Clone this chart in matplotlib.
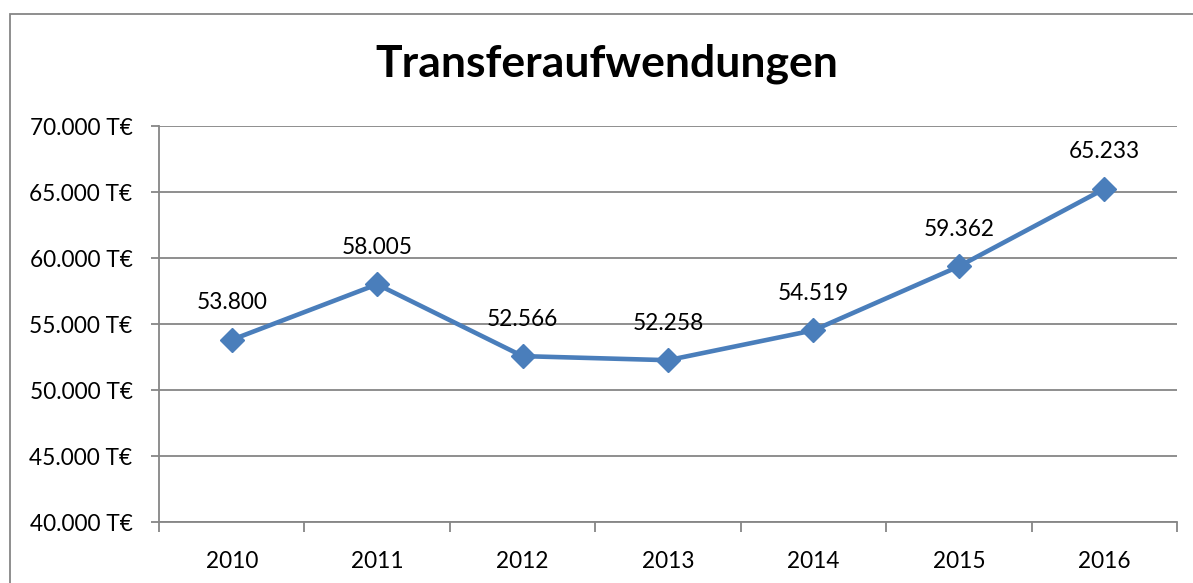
import matplotlib
matplotlib.use("Agg")
import matplotlib.pyplot as plt
from matplotlib.patches import Rectangle
from matplotlib.ticker import FuncFormatter, MultipleLocator

years = ["2010", "2011", "2012", "2013", "2014", "2015", "2016"]
values = [53800, 58005, 52566, 52258, 54519, 59362, 65233]
title = "Transferaufwendungen"

plt.rcParams['font.family'] = ['Lato', 'DejaVu Sans']

W, H = 1193, 583
fig = plt.figure(figsize=(W / 100, H / 100), dpi=100)
ax = fig.add_axes([159 / W, 1 - 522 / H, (1177 - 159) / W, (522 - 126) / H])

grey = "#868686"
blue = "#4A7EBB"
fs = 16.3

# outer chart border (runs off the right and bottom edge)
fig.patches.append(Rectangle((10 / W, -0.2), 1.2, 1 - 14 / H + 0.2,
                             transform=fig.transFigure, fill=False,
                             edgecolor=grey, linewidth=1.3))

x = list(range(len(years)))
ax.plot(x, values, color=blue, linewidth=3.3, marker="D", markersize=12,
        markerfacecolor=blue, markeredgecolor=blue, zorder=3)

for xi, v in zip(x, values):
    lbl = f"{v:,}".replace(",", ".")
    ax.annotate(lbl, (xi, v), xytext=(0, 37), textcoords="offset pixels",
                ha="center", va="center", fontsize=fs, color="black")

ax.set_xlim(-0.5, len(years) - 0.5)
ax.set_ylim(40000, 70000)
ax.yaxis.set_major_locator(MultipleLocator(5000))
ax.yaxis.set_major_formatter(FuncFormatter(lambda v, p: f"{int(v):,} T€".replace(",", ".")))
ax.grid(axis="y", color=grey, linewidth=1.3)
ax.set_axisbelow(True)

ax.set_xticks(x)
ax.set_xticklabels(years)
ax.set_xticks([i - 0.5 for i in range(len(years) + 1)], minor=True)
ax.tick_params(axis="x", which="major", length=0, pad=21, labelsize=fs)
ax.tick_params(axis="x", which="minor", length=7, width=1.3, color=grey)
ax.tick_params(axis="y", length=6, width=1.3, color=grey, pad=13, labelsize=fs)

for s in ["top", "right"]:
    ax.spines[s].set_visible(False)
for s in ["left", "bottom"]:
    ax.spines[s].set_color(grey)
    ax.spines[s].set_linewidth(1.3)

fig.text(607 / W, 1 - 64 / H, title, ha="center", va="center",
         fontsize=32, fontweight="bold")

fig.savefig("out.png", dpi=100)
